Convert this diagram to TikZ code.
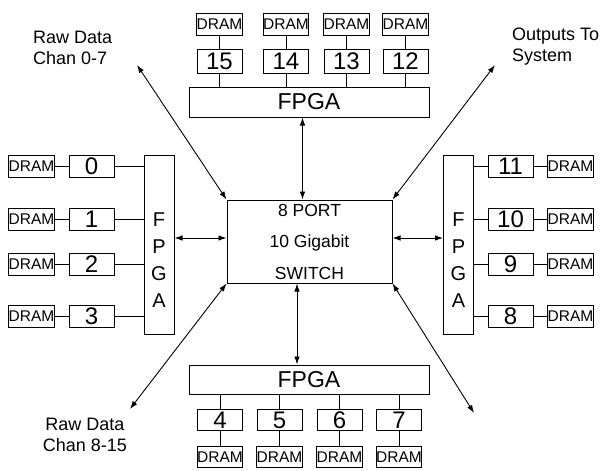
\documentclass[tikz,border=0pt]{standalone}
\usepackage{fontspec}
\setmainfont{Liberation Sans}
\usetikzlibrary{arrows.meta}
\begin{document}
\begin{tikzpicture}[x=1pt,y=-1pt,
 box/.style={draw, line width=1pt, inner sep=0pt, minimum width=45pt, minimum height=22pt},
 dram/.style={box, font=\fontsize{15.5}{15.5}\selectfont},
 num/.style={box, font=\fontsize{24}{24}\selectfont},
 fpgah/.style={box, minimum width=240pt, minimum height=30pt, font=\fontsize{23}{23}\selectfont},
 fpgav/.style={box, minimum width=30pt, minimum height=179pt},
 vtext/.style={inner sep=0pt, align=center, font=\fontsize{20}{27}\selectfont},
 wire/.style={line width=0.9pt},
 link/.style={line width=0.9pt, {Latex[length=8pt,width=5.5pt]}-{Latex[length=8pt,width=5.5pt]}},
 lbl/.style={inner sep=0pt, font=\fontsize{18}{21}\selectfont}
]
\useasboundingbox (0,0) rectangle (600,471);

% switch
\node[box, minimum width=165pt, minimum height=83pt, align=center,
      font=\fontsize{17.5}{31.5}\selectfont] (sw) at (309.5,241.5) {8 PORT\\10 Gigabit\\SWITCH};

% top
\node[fpgah] (ft) at (309,102) {FPGA};
\foreach \n/\x in {15/219.5, 14/286, 13/346.5, 12/405.5} {
  \node[num, minimum height=24pt] (t\n) at (\x,61) {\n};
  \node[dram] (td\n) at (\x,24) {DRAM};
  \draw[wire] (td\n) -- (t\n);
  \draw[wire] (t\n.south) -- (t\n.south |- ft.north);
}

% bottom
\node[fpgah, minimum height=29pt] (fb) at (309,379.5) {FPGA};
\foreach \n/\x in {4/220, 5/279.5, 6/339.5, 7/399} {
  \node[num, minimum height=21pt] (b\n) at (\x,420) {\n};
  \node[dram, minimum height=21pt] (bd\n) at (\x,457) {DRAM};
  \draw[wire] (b\n) -- (bd\n);
  \draw[wire] (b\n.north) -- (b\n.north |- fb.south);
}

% left
\node[fpgav] (fl) at (159,244.5) {};
\node[vtext] (flt) at (159,260) {F\\P\\G\\A};
\foreach \n/\y in {0/166, 1/219, 2/264, 3/316} {
  \node[dram] (ld\n) at (31.5,\y) {DRAM};
  \node[num] (l\n) at (91.5,\y) {\n};
  \draw[wire] (ld\n) -- (l\n);
  \draw[wire] (l\n.east) -- (l\n.east -| fl.west);
}

% right
\node[fpgav] (fr) at (458.5,244.5) {};
\node[vtext] (frt) at (458.5,260) {F\\P\\G\\A};
\foreach \n/\y in {11/166.5, 10/219, 9/264, 8/316} {
  \node[num] (r\n) at (510.5,\y) {\n};
  \node[dram] (rd\n) at (570.5,\y) {DRAM};
  \draw[wire] (r\n.west -| fr.east) -- (r\n.west);
  \draw[wire] (r\n) -- (rd\n);
}

% arrow coordinates
\coordinate (ly) at (0,238);
\coordinate (tx) at (302.5,0);
\coordinate (bx) at (297,0);
\coordinate (ul) at (137,65);
\coordinate (ur) at (495,65);
\coordinate (ll) at (130,409);
\coordinate (lr) at (474,413);

\draw[link] (fl.east |- ly) -- (sw.west |- ly);
\draw[link] (sw.east |- ly) -- (fr.west |- ly);
\draw[link] (ft.south -| tx) -- (sw.north -| tx);
\draw[link] (sw.south -| bx) -- (fb.north -| bx);
\draw[link] (sw.north west) -- (ul);
\draw[link] (sw.north east) -- (ur);
\draw[link] (sw.south west) -- (ll);
\draw[link] (sw.south east) -- (lr);

% labels
\node[lbl, align=left, anchor=west] (lab1) at (33,47.5) {Raw Data\\Chan 0-7};
\node[lbl, align=left, anchor=west] (lab2) at (512,47) {Outputs To\\System};
\node[lbl, align=center] (lab3) at (85,435) {Raw Data\\Chan 8-15};
\end{tikzpicture}
\end{document}
